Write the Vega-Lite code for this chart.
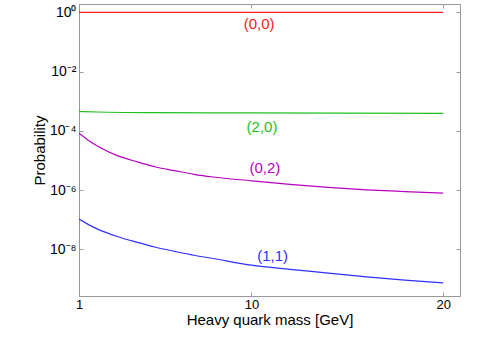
{
  "$schema": "https://vega.github.io/schema/vega-lite/v6.json",
  "autosize": {"type": "none"},
  "padding": {"left": 79, "top": 4, "right": 43, "bottom": 45},
  "width": 381,
  "height": 292,
  "background": "white",
  "config": {
    "view": {"stroke": "#999999", "strokeWidth": 1},
    "font": "Liberation Sans",
    "axis": {
      "domainColor": "#999999",
      "tickColor": "#999999",
      "grid": false,
      "labelFont": "Liberation Sans",
      "labelFontSize": 13,
      "labelColor": "#000000",
      "titleFont": "Liberation Sans",
      "titleFontWeight": "normal",
      "titleFontSize": 15,
      "titleColor": "#000000"
    }
  },
  "datasets": {
    "curves": [
      {"m": 1, "p": 0.999, "s": "a"}, {"m": 5, "p": 0.999, "s": "a"}, {"m": 10, "p": 0.999, "s": "a"}, {"m": 20, "p": 0.999, "s": "a"},
      {"m": 1, "p": 0.00045, "s": "b"}, {"m": 2, "p": 0.00043, "s": "b"}, {"m": 5, "p": 0.00041, "s": "b"}, {"m": 10, "p": 0.0004, "s": "b"}, {"m": 20, "p": 0.00039, "s": "b"},
      {"m": 1, "p": 8.2e-5, "s": "c"}, {"m": 1.5, "p": 4.7e-5, "s": "c"}, {"m": 2, "p": 2.95e-5, "s": "c"}, {"m": 3, "p": 1.45e-5, "s": "c"}, {"m": 4, "p": 9.1e-6, "s": "c"}, {"m": 5, "p": 6.0e-6, "s": "c"}, {"m": 6, "p": 4.5e-6, "s": "c"}, {"m": 7, "p": 3.4e-6, "s": "c"}, {"m": 8, "p": 2.75e-6, "s": "c"}, {"m": 10, "p": 2.05e-6, "s": "c"}, {"m": 12, "p": 1.55e-6, "s": "c"}, {"m": 14, "p": 1.23e-6, "s": "c"}, {"m": 16, "p": 1.02e-6, "s": "c"}, {"m": 18, "p": 8.9e-7, "s": "c"}, {"m": 20, "p": 7.9e-7, "s": "c"},
      {"m": 1, "p": 1.05e-7, "s": "d"}, {"m": 1.5, "p": 6.8e-8, "s": "d"}, {"m": 2, "p": 4.7e-8, "s": "d"}, {"m": 3, "p": 2.7e-8, "s": "d"}, {"m": 4, "p": 1.74e-8, "s": "d"}, {"m": 5, "p": 1.17e-8, "s": "d"}, {"m": 6, "p": 8.5e-9, "s": "d"}, {"m": 7, "p": 6.3e-9, "s": "d"}, {"m": 8, "p": 4.9e-9, "s": "d"}, {"m": 10, "p": 2.9e-9, "s": "d"}, {"m": 12, "p": 2.1e-9, "s": "d"}, {"m": 14, "p": 1.58e-9, "s": "d"}, {"m": 16, "p": 1.17e-9, "s": "d"}, {"m": 18, "p": 9.1e-10, "s": "d"}, {"m": 20, "p": 7.4e-10, "s": "d"}
    ],
    "labels": [
      {"m": 10.4, "p": 0.40, "s": "a", "t": "(0,0)"},
      {"m": 10.55, "p": 0.00013, "s": "b", "t": "(2,0)"},
      {"m": 10.7, "p": 5.4e-6, "s": "c", "t": "(0,2)"},
      {"m": 11.1, "p": 5.9e-9, "s": "d", "t": "(1,1)"}
    ]
  },
  "resolve": {"axis": {"x": "independent", "y": "independent"}},
  "layer": [
    {
      "data": {"name": "curves"},
      "mark": {"type": "line", "strokeWidth": 1.2, "clip": true, "interpolate": "monotone"},
      "encoding": {
        "x": {"field": "m", "type": "quantitative", "scale": {"domain": [1, 20.88], "nice": false, "zero": false},
          "axis": {"values": [1, 10, 20], "title": "Heavy quark mass [GeV]", "tickSize": -4, "labelPadding": 6, "titlePadding": 1, "labelFlush": false}},
        "y": {"field": "p", "type": "quantitative", "scale": {"type": "log", "domain": [2.65e-10, 1.905], "nice": false},
          "axis": {"values": [1, 0.01, 0.0001, 0.000001, 1e-8], "title": "Probability", "tickSize": -4, "labelPadding": 7, "titlePadding": 2, "labelFontSize": 14,
            "labelExpr": "datum.value >= 0.5 ? '10⁰' : datum.value >= 0.005 ? '10⁻²' : datum.value >= 5e-5 ? '10⁻⁴' : datum.value >= 5e-7 ? '10⁻⁶' : '10⁻⁸'"}},
        "color": {"field": "s", "type": "nominal", "legend": null,
          "scale": {"domain": ["a", "b", "c", "d"], "range": ["#ff2020", "#20c020", "#b800c0", "#3030ff"]}}
      }
    },
    {
      "data": {"name": "labels"},
      "mark": {"type": "text", "fontSize": 15, "font": "Liberation Sans"},
      "encoding": {
        "x": {"field": "m", "type": "quantitative",
          "axis": {"orient": "top", "values": [1, 10, 20], "labels": false, "title": null, "tickSize": -4, "domain": false}},
        "y": {"field": "p", "type": "quantitative",
          "axis": {"orient": "right", "values": [1, 0.01, 0.0001, 0.000001, 1e-8], "labels": false, "title": null, "tickSize": -4, "domain": false}},
        "text": {"field": "t"},
        "color": {"field": "s", "type": "nominal", "legend": null}
      }
    }
  ]
}
